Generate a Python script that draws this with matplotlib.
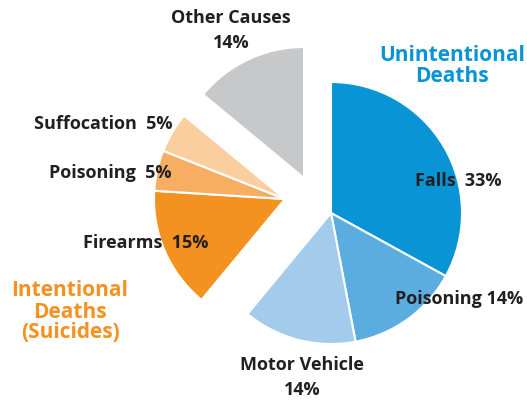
import numpy as np
import matplotlib
matplotlib.use("Agg")
import matplotlib.pyplot as plt

# shares of deaths (fractions of the whole)
unint_labels = ["Falls", "Poisoning", "Motor Vehicle"]
unint_values = [0.33, 0.14, 0.14]
intent_labels = ["Firearms", "Poisoning", "Suffocation"]
intent_values = [0.15, 0.05, 0.05]
other_labels = ["Other Causes"]
other_values = [0.14]

unint_colors = ["#0994d6", "#5caddf", "#a2cbec"]
intent_colors = ["#f39221", "#f7ad62", "#fbce9f"]
other_colors = ["#c7c8ca"]

plt.rcParams["font.family"] = ["Open Sans", "DejaVu Sans"]

fig = plt.figure(figsize=(5.27, 4.00), dpi=100)
ax = fig.add_axes([0, 0, 1, 1])

R = 131
H = 400  # figure height in px, axes use pixel units with y up

groups = [
    (unint_values, unint_colors, (331, H - 213)),
    (intent_values, intent_colors, (285, H - 199)),
    (other_values, other_colors, (304, H - 178)),
]

start = 0.0
for vals, cols, c in groups:
    ax.pie(vals, colors=cols, normalize=False, startangle=90 - start * 360,
           counterclock=False, center=c, radius=R,
           wedgeprops=dict(edgecolor="white", linewidth=1.5))
    start += sum(vals)

ax.set_xlim(0, 527)
ax.set_ylim(0, H)
ax.set_aspect("equal")
ax.axis("off")

dark = "#231f20"
fs = 13


def pct(v):
    return f"{round(v * 100)}%"


def label(x, y, s):
    ax.text(x, H - y, s, ha="center", va="center", fontsize=fs, fontweight="bold", color=dark)


# slice labels
label(231, 18, other_labels[0])
label(231, 43, pct(other_values[0]))

label(458, 181, f"{unint_labels[0]}  {pct(unint_values[0])}")
label(459, 299, f"{unint_labels[1]} {pct(unint_values[1])}")
label(302, 365, unint_labels[2])
label(302, 390, pct(unint_values[2]))

label(146, 243, f"{intent_labels[0]}  {pct(intent_values[0])}")
label(110, 173, f"{intent_labels[1]}  {pct(intent_values[1])}")
label(103, 124, f"{intent_labels[2]}  {pct(intent_values[2])}")

# group titles
ax.text(452, H - 66, "Unintentional\nDeaths", ha="center", va="center", fontsize=15,
        fontweight="bold", color="#0994d6", linespacing=1.05)
ax.text(70, H - 312, "Intentional\nDeaths\n(Suicides)", ha="center", va="center", fontsize=15,
        fontweight="bold", color="#f39221", linespacing=1.0)

fig.savefig("out.png", dpi=100)
